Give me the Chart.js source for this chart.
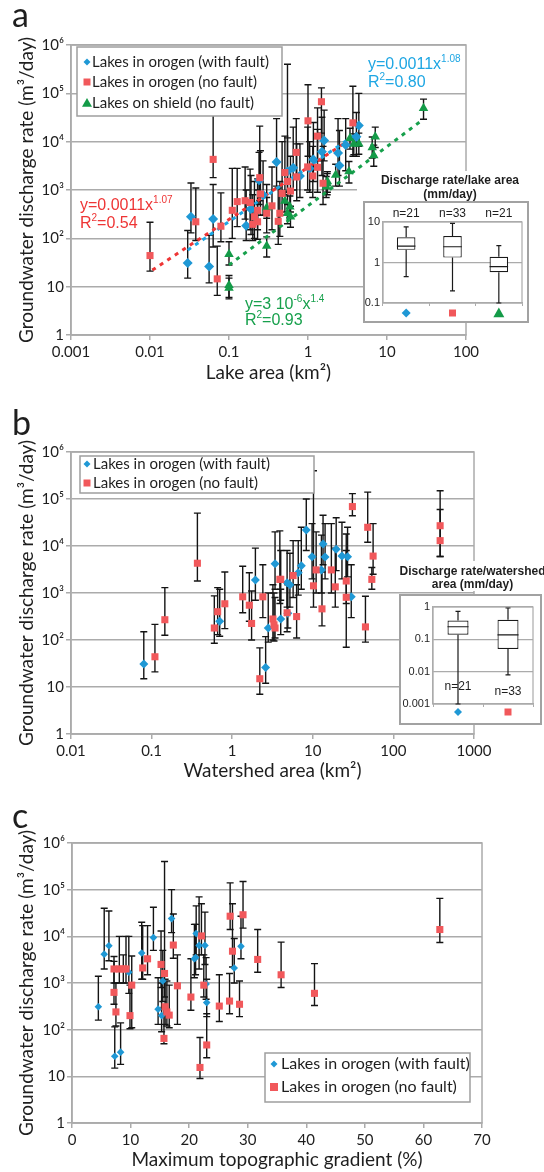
<!DOCTYPE html>
<html>
<head>
<meta charset="utf-8">
<script src="https://cdn.jsdelivr.net/npm/chart.js@4.4.1/dist/chart.umd.min.js"></script>
<style>
  body { margin: 0; background: #fff; }
  #page { position: relative; width: 544px; height: 1172px; overflow: hidden; background: #fff; }
  canvas { position: absolute; }
</style>
</head>
<body>
<div id="page">
  <canvas id="chartA" width="544" height="392" style="left:0;top:0"></canvas>
  <canvas id="chartB" width="544" height="390" style="left:0;top:400px"></canvas>
  <canvas id="chartC" width="544" height="382" style="left:0;top:790px"></canvas>
  <canvas id="insetA" width="187" height="160" style="left:357px;top:168px"></canvas>
  <canvas id="insetB" width="164" height="172" style="left:380px;top:558px"></canvas>
</div>
<script>
// ---------- data ----------
const yTicks = [1, 10, 100, 1000, 10000, 100000, 1000000];
const yTickLabels = ['1', '10', '10²', '10³', '10⁴', '10⁵', '10⁶'];
const areaTicks = [0.001, 0.01, 0.1, 1, 10, 100];
const areaTickLabels = ['0.001', '0.01', '0.1', '1', '10', '100'];
const shedTicks = [0.01, 0.1, 1, 10, 100, 1000];
const shedTickLabels = ['0.01', '0.1', '1', '10', '100', '1000'];
const slopeTicks = [0, 10, 20, 30, 40, 50, 60, 70];
const slopeTickLabels = ['0', '10', '20', '30', '40', '50', '60', '70'];
const seriesNames = ['Lakes in orogen (with fault)', 'Lakes in orogen (no fault)', 'Lakes on shield (no fault)'];

// rows: [x, discharge, low, high]
const areaFault = [
  [0.030, 31, 15, 145], [0.033, 280, 130, 1400], [0.056, 26, 12, 115], [0.063, 250, 66, 1300],
  [0.165, 182, 90, 1000], [0.19, 400, 120, 2000], [0.24, 1600, 500, 6000], [0.27, 800, 300, 4000],
  [0.40, 3800, 1200, 30000], [0.55, 2400, 900, 12000], [0.65, 2900, 1000, 20000], [0.79, 1950, 700, 9000],
  [1.05, 2800, 900, 10000], [1.17, 4300, 1500, 25000], [1.5, 6200, 2000, 32000], [1.6, 10600, 4000, 45000],
  [2.4, 5800, 2000, 30000], [2.5, 3200, 1200, 17000], [3.0, 8500, 2500, 30000], [4.1, 12700, 5000, 40000],
  [4.4, 21500, 8000, 100000]
];
const areaNoFault = [
  [0.01, 44, 21, 215], [0.038, 220, 90, 1100], [0.063, 4300, 1800, 60000], [0.071, 14.5, 6.6, 69],
  [0.079, 178, 85, 870], [0.11, 380, 100, 2800], [0.127, 575, 175, 2800], [0.16, 600, 250, 3000],
  [0.185, 550, 150, 2700], [0.2, 195, 90, 800], [0.21, 280, 100, 1500], [0.23, 380, 150, 1700],
  [0.23, 220, 95, 1000], [0.245, 1800, 600, 21000], [0.25, 830, 300, 6500], [0.3, 330, 130, 1300],
  [0.35, 470, 150, 3000], [0.42, 225, 75, 1100], [0.44, 330, 110, 1500], [0.47, 850, 300, 10000],
  [0.51, 2300, 800, 13000], [0.55, 1500, 500, 400000], [0.6, 950, 350, 5000], [0.71, 6000, 2000, 30000],
  [0.72, 1860, 600, 9000], [0.99, 3000, 1000, 20000], [1.0, 27000, 5000, 150000], [1.15, 1950, 700, 8000],
  [1.32, 13000, 4000, 50000], [1.32, 2950, 900, 18000], [1.48, 67000, 15000, 130000], [1.55, 1380, 500, 8000],
  [3.7, 24500, 5000, 140000]
];
const areaShield = [
  [0.1, 47, 28, 85], [0.1, 10.7, 6, 17], [0.1, 9.4, 5.6, 15], [0.3, 69, 41, 107],
  [0.3, 430, 260, 700], [0.51, 590, 350, 950], [0.55, 330, 200, 540], [0.59, 450, 270, 750],
  [0.6, 280, 170, 460], [1.7, 1170, 700, 1900], [1.75, 1350, 800, 2200], [1.76, 1500, 900, 2400],
  [2.24, 2050, 1200, 3400], [3.3, 2400, 1400, 3900], [3.4, 11700, 7000, 19000], [3.8, 9000, 5400, 14500],
  [4.4, 9100, 5500, 15000], [6.5, 7600, 4600, 12500], [6.8, 5200, 3100, 8500], [7.1, 12600, 7600, 20000],
  [29, 49000, 29000, 76000]
];
const fitFault = [[0.03, 57], [4.2, 15000]];
const fitNoFault = [[0.0107, 22], [3.1, 10000]];
const fitShield = [[0.1, 28], [28, 28000]];

const shedFault = [
  [0.08, 31, 15, 150], [0.7, 250, 120, 1200], [1.94, 1900, 700, 9000], [2.6, 26, 12, 118],
  [2.8, 180, 90, 1000], [3.4, 4200, 1200, 20000], [4.0, 280, 130, 1200], [4.8, 1650, 500, 8000],
  [4.9, 370, 180, 1500], [5.2, 1500, 500, 7000], [6.6, 2700, 900, 13000], [7.2, 3800, 1200, 25000],
  [8.3, 22000, 8000, 100000], [9.8, 5900, 2000, 30000], [12.8, 3100, 1000, 17000], [13.4, 11000, 4000, 45000],
  [14.2, 5800, 2000, 30000], [19.5, 8500, 3000, 40000], [23, 6100, 2000, 32000], [27, 5900, 2200, 25000],
  [30, 830, 300, 4000]
];
const shedNoFault = [
  [0.11, 44, 21, 215], [0.146, 270, 126, 1300], [0.37, 4300, 1800, 50000], [0.6, 180, 85, 870],
  [0.66, 400, 130, 1300], [0.81, 590, 175, 2800], [1.35, 830, 380, 3700], [1.63, 550, 250, 2700],
  [1.74, 225, 100, 1100], [2.2, 15, 7, 68], [2.4, 830, 300, 4000], [3.2, 280, 100, 1500],
  [3.3, 210, 95, 1000], [3.4, 180, 110, 800], [3.9, 1950, 600, 21000], [4.0, 1950, 700, 8000],
  [4.8, 380, 150, 1700], [5.7, 2350, 800, 13000], [6.3, 315, 110, 1500], [10.2, 1420, 500, 400000],
  [11, 3100, 1000, 20000], [13, 460, 200, 2800], [17, 3100, 1000, 30000], [19, 1350, 500, 9000],
  [26, 1800, 600, 8000], [26, 810, 70, 18000], [31, 69000, 44000, 130000], [45, 190, 90, 850],
  [48, 25000, 12000, 140000], [54, 1950, 1200, 3500], [56, 6100, 2500, 30000], [380, 27000, 6000, 150000],
  [380, 13000, 6000, 60000]
];

const slopeFault = [
  [4.5, 310, 160, 1400], [5.5, 4150, 2000, 40000], [6.3, 6300, 3000, 35000], [7.3, 27, 15, 115],
  [8.3, 33, 18, 140], [9.7, 1700, 600, 10000], [11.9, 4400, 1200, 20000], [13.9, 9400, 5000, 42000],
  [14.7, 275, 130, 1300], [15.3, 200, 90, 1000], [15.5, 1100, 400, 5000], [17.0, 24000, 12000, 100000],
  [20.9, 3300, 1300, 18000], [21.1, 3500, 1500, 18000], [21.2, 11500, 4000, 45000], [21.7, 6400, 2000, 70000],
  [22.7, 6400, 2500, 33000], [22.9, 950, 450, 3500], [23.0, 380, 190, 1200], [27.7, 2100, 1000, 9000],
  [28.85, 6100, 3300, 27000]
];
const slopeNoFault = [
  [7.17, 2000, 1000, 3700], [8.08, 2000, 1000, 10000], [8.76, 2000, 1000, 4000], [9.22, 2000, 1000, 10000],
  [7.17, 630, 350, 2900], [7.5, 240, 120, 1000], [10.2, 900, 110, 3800], [9.9, 200, 105, 900],
  [12.07, 2100, 1200, 17000], [12.9, 3300, 1500, 17000], [15.2, 2500, 800, 13000], [15.8, 1600, 500, 400000],
  [15.7, 65, 50, 300], [15.9, 310, 130, 1200], [16.2, 240, 120, 1100], [16.6, 205, 110, 900],
  [17.3, 6500, 3400, 30000], [18.0, 870, 130, 4000], [20.3, 500, 260, 3300], [21.85, 15.5, 9, 68],
  [22.1, 10200, 4000, 50000], [22.5, 900, 500, 4000], [23.0, 47, 25, 220], [25.15, 320, 150, 1500],
  [26.9, 410, 220, 1600], [27.0, 27000, 14000, 140000], [27.4, 4800, 2200, 50000], [28.6, 350, 190, 1100],
  [29.2, 29000, 15000, 150000], [31.7, 3200, 1700, 14000], [35.7, 1500, 800, 7500], [41.4, 600, 330, 2600],
  [62.8, 14000, 7400, 65000]
];

// inset box plots: [min, q1, median, q3, max]
const lakeBoxCats = ['with fault', 'no fault', 'shield'];
const lakeBoxN = ['n=21', 'n=33', 'n=21'];
const lakeBoxStats = [[0.45, 2.05, 2.55, 4.2, 7.6], [0.2, 1.32, 2.45, 4.5, 9.3], [0.1, 0.575, 0.79, 1.39, 2.6]];
const lakeBoxTicks = [0.1, 1, 10];
const lakeBoxLabels = ['0.1', '1', '10'];
const shedBoxCats = ['with fault', 'no fault'];
const shedBoxN = ['n=21', 'n=33'];
const shedBoxStats = [[0.001, 0.138, 0.245, 0.38, 0.73], [0.008, 0.05, 0.138, 0.4, 0.93]];
const shedBoxTicks = [0.001, 0.01, 0.1, 1];
const shedBoxLabels = ['0.001', '0.01', '0.1', '1'];

// ---------- styling ----------
const SANS = 'Lato, "DejaVu Sans", sans-serif';
const ARIAL = '"Liberation Sans", Arial, sans-serif';
const BLUE = '#1f98d5';
const RED = '#f1585b';
const GREEN = '#149b48';
const GRID = '#ababab';
const TXT = '#1e1e1e';

function drawMark(ctx, style, x, y, s, color) {
  ctx.fillStyle = color;
  ctx.beginPath();
  if (style === 'rectRot') {
    ctx.moveTo(x, y - s); ctx.lineTo(x + s, y); ctx.lineTo(x, y + s); ctx.lineTo(x - s, y);
  } else if (style === 'rect') {
    ctx.rect(x - s, y - s, 2 * s, 2 * s);
  } else {
    ctx.moveTo(x, y - s); ctx.lineTo(x + s, y + s * 0.75); ctx.lineTo(x - s, y + s * 0.75);
  }
  ctx.closePath();
  ctx.fill();
}

// text with {superscript} parts
function richText(ctx, str, x, y, size, color) {
  const parts = str.split(/(\{[^}]*\})/).filter(Boolean);
  let cx = x;
  ctx.fillStyle = color;
  ctx.textAlign = 'left';
  ctx.textBaseline = 'alphabetic';
  parts.forEach(p => {
    const sup = p[0] === '{';
    const t = sup ? p.slice(1, -1) : p;
    ctx.font = (sup ? Math.round(size * 0.6) : size) + 'px ' + ARIAL;
    ctx.fillText(t, cx, sup ? y - size * 0.45 : y);
    cx += ctx.measureText(t).width;
  });
}

function toPoints(rows) {
  return rows.map(r => ({ x: r[0], y: r[1], lo: r[2], hi: r[3] }));
}

function markerSet(name, rows, style, color, radius, order) {
  return {
    label: name, data: toPoints(rows), errorBars: true, order: order,
    pointStyle: style, pointRadius: radius, backgroundColor: color,
    borderColor: color, borderWidth: 0, showLine: false
  };
}

function fitSet(rows, color) {
  return {
    data: rows.map(r => ({ x: r[0], y: r[1] })), order: 9, showLine: true,
    pointRadius: 0, borderColor: color, borderWidth: 3, borderDash: [4, 5], fill: false
  };
}

const errorBarPlugin = {
  id: 'errorBars',
  beforeDatasetsDraw(chart) {
    const { ctx, chartArea: a } = chart;
    const xs = chart.scales.x, ys = chart.scales.y;
    ctx.save();
    ctx.strokeStyle = GRID;
    ctx.lineWidth = 1.5;
    ctx.strokeRect(a.left, a.top, a.right - a.left, a.bottom - a.top);
    ctx.beginPath();
    ctx.rect(a.left, a.top, a.right - a.left, a.bottom - a.top);
    ctx.clip();
    ctx.strokeStyle = '#141414';
    ctx.lineWidth = 1.4;
    chart.data.datasets.forEach(ds => {
      if (!ds.errorBars) return;
      ds.data.forEach(p => {
        const px = xs.getPixelForValue(p.x);
        const top = ys.getPixelForValue(p.hi);
        const bot = ys.getPixelForValue(p.lo);
        ctx.beginPath();
        ctx.moveTo(px, top); ctx.lineTo(px, bot);
        ctx.moveTo(px - 3.5, top); ctx.lineTo(px + 3.5, top);
        ctx.moveTo(px - 3.5, bot); ctx.lineTo(px + 3.5, bot);
        ctx.stroke();
      });
    });
    ctx.restore();
  }
};

function overlayPlugin(cfg) {
  return {
    id: 'overlay',
    afterDraw(chart) {
      const ctx = chart.ctx;
      ctx.save();
      ctx.fillStyle = TXT;
      ctx.font = '34px ' + SANS;
      ctx.textAlign = 'left';
      ctx.textBaseline = 'alphabetic';
      ctx.fillText(cfg.letter, 12, cfg.letterY);

      const L = cfg.legend;
      ctx.fillStyle = '#fff';
      ctx.fillRect(L.box[0], L.box[1], L.box[2], L.box[3]);
      ctx.strokeStyle = '#9e9e9e';
      ctx.lineWidth = 1.5;
      ctx.strokeRect(L.box[0], L.box[1], L.box[2], L.box[3]);
      L.rows.forEach((r, i) => {
        drawMark(ctx, r.style, L.markX, L.rowY[i], r.size, r.color);
        ctx.fillStyle = TXT;
        ctx.font = L.font + 'px ' + SANS;
        ctx.textBaseline = 'middle';
        ctx.fillText(seriesNames[r.series], L.textX, L.rowY[i]);
      });
      (cfg.notes || []).forEach(n => richText(ctx, n.text, n.x, n.y, 16, n.color));
      ctx.restore();
    }
  };
}

function mainChart(id, cfg) {
  const canvas = document.getElementById(id);
  const H = canvas.height;
  return new Chart(canvas, {
    type: 'scatter',
    data: { datasets: cfg.datasets },
    options: {
      responsive: false,
      animation: false,
      events: [],
      layout: { padding: { left: 0, top: cfg.area[1], right: canvas.width - cfg.area[2], bottom: 0 } },
      plugins: { legend: { display: false }, tooltip: { enabled: false } },
      scales: {
        x: {
          type: cfg.xType,
          min: cfg.xTicks[0],
          max: cfg.xTicks[cfg.xTicks.length - 1],
          afterBuildTicks: s => { s.ticks = cfg.xTicks.map(v => ({ value: v })); },
          afterFit: s => { s.height = H - cfg.area[3]; },
          ticks: {
            autoSkip: false, maxRotation: 0, padding: 3, color: TXT,
            font: { family: SANS, size: 15 },
            callback: (v, i) => cfg.xLabels[i]
          },
          grid: { drawOnChartArea: false, color: GRID, lineWidth: 1.5, tickLength: 5 },
          border: { color: GRID, width: 1.5 },
          title: {
            display: true, text: cfg.xTitle, color: TXT,
            font: { family: SANS, size: 19 }, padding: { top: 0, bottom: cfg.xTitlePad }
          }
        },
        y: {
          type: 'logarithmic',
          min: yTicks[0],
          max: yTicks[yTicks.length - 1],
          afterBuildTicks: s => { s.ticks = yTicks.map(v => ({ value: v })); },
          afterFit: s => { s.width = cfg.area[0]; },
          ticks: {
            autoSkip: false, padding: 2, color: TXT,
            font: { family: SANS, size: 15 },
            callback: (v, i) => yTickLabels[i]
          },
          grid: { color: GRID, lineWidth: 1.5, tickLength: 5 },
          border: { color: GRID, width: 1.5 },
          title: {
            display: true, text: 'Groundwater discharge rate (m³/day)', color: TXT,
            font: { family: SANS, size: 19 }, padding: { top: 15, bottom: 0 }
          }
        }
      }
    },
    plugins: [errorBarPlugin, overlayPlugin(cfg)]
  });
}

function boxPlugin(cfg) {
  return {
    id: 'boxInset',
    beforeDraw(chart) {
      const ctx = chart.ctx;
      ctx.save();
      ctx.fillStyle = '#fff';
      cfg.white.forEach(r => ctx.fillRect(r[0], r[1], r[2], r[3]));
      ctx.strokeStyle = '#a2a2a2';
      ctx.lineWidth = 2;
      ctx.strokeRect(cfg.frame[0], cfg.frame[1], cfg.frame[2], cfg.frame[3]);
      ctx.fillStyle = TXT;
      ctx.font = 'bold 12px ' + ARIAL;
      ctx.textAlign = 'center';
      ctx.textBaseline = 'alphabetic';
      cfg.title.forEach((t, i) => ctx.fillText(t, cfg.titleX, cfg.titleY[i]));
      ctx.restore();
    },
    beforeDatasetsDraw(chart) {
      const { ctx, chartArea: a } = chart;
      ctx.save();
      ctx.strokeStyle = GRID;
      ctx.lineWidth = 1.2;
      ctx.strokeRect(a.left, a.top, a.right - a.left, a.bottom - a.top);
      ctx.restore();
    },
    afterDatasetsDraw(chart) {
      const { ctx } = chart;
      const ys = chart.scales.y;
      const bars = chart.getDatasetMeta(0).data;
      ctx.save();
      ctx.strokeStyle = '#1a1a1a';
      ctx.lineWidth = 1.2;
      cfg.stats.forEach((s, i) => {
        const x = bars[i].x, hw = bars[i].width / 2;
        const [mn, q1, md, q3, mx] = s.map(v => ys.getPixelForValue(v));
        ctx.beginPath();
        ctx.moveTo(x, q3); ctx.lineTo(x, mx);
        ctx.moveTo(x - 2.5, mx); ctx.lineTo(x + 2.5, mx);
        ctx.moveTo(x, q1); ctx.lineTo(x, mn);
        ctx.moveTo(x - 2.5, mn); ctx.lineTo(x + 2.5, mn);
        ctx.moveTo(x - hw, md); ctx.lineTo(x + hw, md);
        ctx.stroke();
      });
      ctx.restore();
    },
    afterDraw(chart) {
      const ctx = chart.ctx;
      const xs = chart.scales.x;
      ctx.save();
      ctx.font = '12px ' + ARIAL;
      ctx.textAlign = 'center';
      ctx.textBaseline = 'middle';
      cfg.n.forEach((t, i) => {
        const x = xs.getPixelForValue(i);
        ctx.fillStyle = TXT;
        ctx.fillText(t, x, cfg.nY[i]);
        const m = cfg.marks[i];
        drawMark(ctx, m.style, x, cfg.markY, m.size, m.color);
      });
      ctx.restore();
    }
  };
}

function insetChart(id, cfg) {
  const canvas = document.getElementById(id);
  return new Chart(canvas, {
    type: 'bar',
    data: {
      labels: cfg.cats,
      datasets: [{
        data: cfg.stats.map(s => [s[1], s[3]]),
        backgroundColor: '#fff', borderColor: '#1a1a1a', borderWidth: 1.2,
        borderSkipped: false, barPercentage: cfg.barPct, categoryPercentage: 1
      }]
    },
    options: {
      responsive: false,
      animation: false,
      events: [],
      layout: { padding: { left: 0, top: cfg.area[1], right: canvas.width - cfg.area[2], bottom: 0 } },
      plugins: { legend: { display: false }, tooltip: { enabled: false } },
      scales: {
        x: {
          afterFit: s => { s.height = canvas.height - cfg.area[3]; },
          ticks: { display: false },
          grid: { drawOnChartArea: false, color: GRID, tickLength: 3 },
          border: { color: GRID, width: 1.2 }
        },
        y: {
          type: 'logarithmic',
          min: cfg.yTicks[0],
          max: cfg.yTicks[cfg.yTicks.length - 1],
          afterBuildTicks: s => { s.ticks = cfg.yTicks.map(v => ({ value: v })); },
          afterFit: s => { s.width = cfg.area[0]; },
          ticks: {
            autoSkip: false, padding: 3, color: TXT,
            font: { family: ARIAL, size: 11 },
            callback: (v, i) => cfg.yLabels[i]
          },
          grid: { color: GRID, lineWidth: 1.2, drawTicks: false },
          border: { color: GRID, width: 1.2 }
        }
      }
    },
    plugins: [boxPlugin(cfg)]
  });
}

// ---------- panel a ----------
mainChart('chartA', {
  area: [71, 45, 466, 335],
  xType: 'logarithmic', xTicks: areaTicks, xLabels: areaTickLabels,
  xTitle: 'Lake area (km²)', xTitlePad: 8,
  letter: 'a', letterY: 27,
  datasets: [
    markerSet(seriesNames[0], areaFault, 'rectRot', BLUE, 5, 1),
    markerSet(seriesNames[1], areaNoFault, 'rect', RED, 5, 0),
    markerSet(seriesNames[2], areaShield, 'triangle', GREEN, 5.5, 2),
    fitSet(fitFault, '#1ea6e3'),
    fitSet(fitNoFault, '#ee3535'),
    fitSet(fitShield, '#17a04c')
  ],
  legend: {
    box: [77, 47, 205, 69], markX: 87, textX: 92, rowY: [62, 82, 103], font: 15,
    rows: [
      { series: 0, style: 'rectRot', size: 3.5, color: BLUE },
      { series: 1, style: 'rect', size: 3.5, color: RED },
      { series: 2, style: 'triangle', size: 5, color: GREEN }
    ]
  },
  notes: [
    { text: 'y=0.0011x{1.08}', x: 368, y: 69, color: '#1ea6e3' },
    { text: 'R{2}=0.80', x: 368, y: 87, color: '#1ea6e3' },
    { text: 'y=0.0011x{1.07}', x: 80, y: 210, color: '#ee3535' },
    { text: 'R{2}=0.54', x: 80, y: 228, color: '#ee3535' },
    { text: 'y=3 10{-6}x{1.4}', x: 245, y: 309, color: '#17a04c' },
    { text: 'R{2}=0.93', x: 245, y: 325, color: '#17a04c' }
  ]
});

// ---------- panel b ----------
mainChart('chartB', {
  area: [71, 52, 474, 334],
  xType: 'logarithmic', xTicks: shedTicks, xLabels: shedTickLabels,
  xTitle: 'Watershed area (km²)', xTitlePad: 8,
  letter: 'b', letterY: 35,
  datasets: [
    markerSet(seriesNames[0], shedFault, 'rectRot', BLUE, 4.5, 1),
    markerSet(seriesNames[1], shedNoFault, 'rect', RED, 5, 0)
  ],
  legend: {
    box: [80, 56, 234, 37], markX: 87, textX: 93, rowY: [64, 83], font: 15,
    rows: [
      { series: 0, style: 'rectRot', size: 3.5, color: BLUE },
      { series: 1, style: 'rect', size: 3.5, color: RED }
    ]
  }
});

// ---------- panel c ----------
mainChart('chartC', {
  area: [72, 53, 482, 333],
  xType: 'linear', xTicks: slopeTicks, xLabels: slopeTickLabels,
  xTitle: 'Maximum topographic gradient (%)', xTitlePad: 1,
  letter: 'c', letterY: 38,
  datasets: [
    markerSet(seriesNames[0], slopeFault, 'rectRot', BLUE, 3.8, 1),
    markerSet(seriesNames[1], slopeNoFault, 'rect', RED, 5, 0)
  ],
  legend: {
    box: [265, 263, 205, 49], markX: 274, textX: 281, rowY: [274, 297], font: 16,
    rows: [
      { series: 0, style: 'rectRot', size: 3.5, color: BLUE },
      { series: 1, style: 'rect', size: 4, color: RED }
    ]
  }
});

// ---------- insets ----------
insetChart('insetA', {
  area: [26, 54, 165, 135],
  cats: lakeBoxCats, stats: lakeBoxStats, n: lakeBoxN, barPct: 0.4,
  yTicks: lakeBoxTicks, yLabels: lakeBoxLabels,
  white: [[0, 3, 187, 31], [7, 34, 164, 120]],
  frame: [7, 34, 164, 120],
  title: ['Discharge rate/lake area', '(mm/day)'], titleX: 93, titleY: [16, 29.5],
  nY: [46, 46, 46], markY: 145,
  marks: [
    { style: 'rectRot', size: 4.5, color: BLUE },
    { style: 'rect', size: 3.5, color: RED },
    { style: 'triangle', size: 5.5, color: GREEN }
  ]
});

insetChart('insetB', {
  area: [53, 49, 153, 146],
  cats: shedBoxCats, stats: shedBoxStats, n: shedBoxN, barPct: 0.42,
  yTicks: shedBoxTicks, yLabels: shedBoxLabels,
  white: [[0, 3, 164, 30], [20, 37, 141, 129]],
  frame: [20, 37, 141, 129],
  title: ['Discharge rate/watershed', 'area (mm/day)'], titleX: 92.5, titleY: [17, 30],
  nY: [129, 134], markY: 154,
  marks: [
    { style: 'rectRot', size: 4, color: BLUE },
    { style: 'rect', size: 3.5, color: RED }
  ]
});
</script>
</body>
</html>
